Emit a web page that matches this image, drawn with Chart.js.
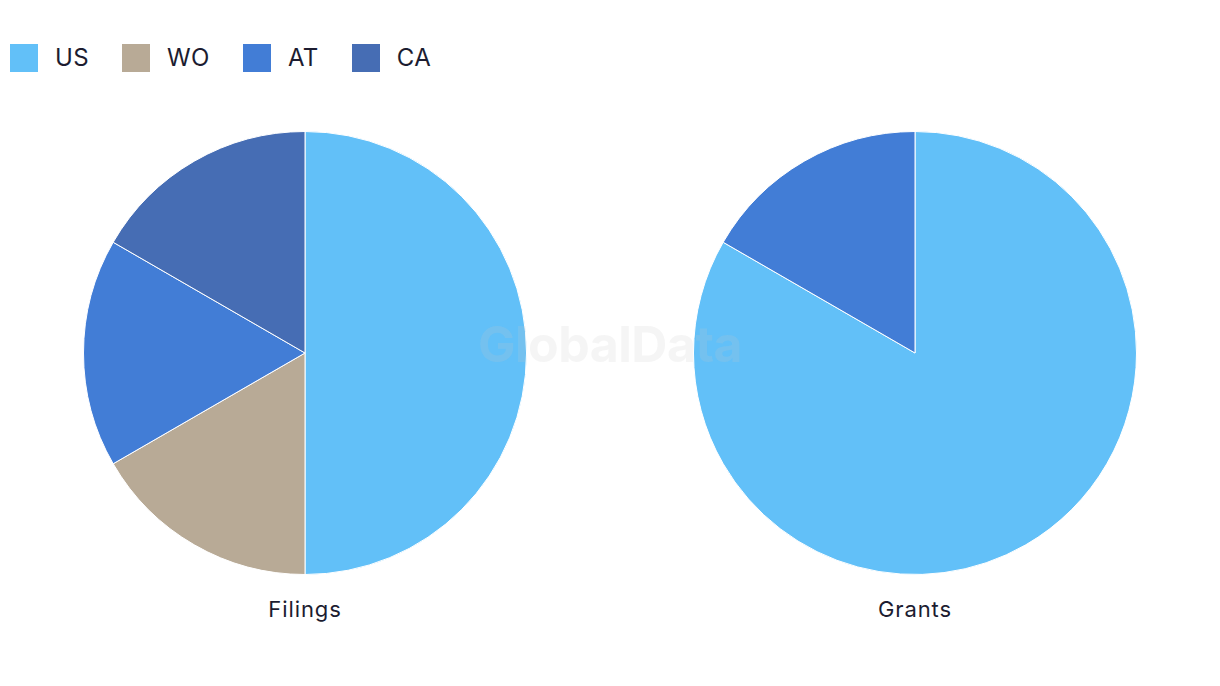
<!DOCTYPE html>
<html>
<head>
<meta charset="utf-8">
<script src="https://cdn.jsdelivr.net/npm/chart.js@4.4.1/dist/chart.umd.min.js"></script>
<style>
  html, body { margin:0; padding:0; background:#fff; width:1220px; height:686px; overflow:hidden; font-family: Inter, "Noto Sans", sans-serif; color:#1c1c30; }
  #legend { position:absolute; left:10px; top:43px; display:flex; align-items:center; }
  .item { display:flex; align-items:center; margin-right:33px; font-size:24px; letter-spacing:0.4px; }
  .box { width:28px; height:28px; margin-right:17px; }
  .cv { position:absolute; }
  .lbl { position:absolute; width:300px; text-align:center; font-size:22px; letter-spacing:0.9px; top:596px; }
  #wm { position:absolute; left:360px; top:314px; width:500px; text-align:center; font-size:50px; font-weight:700; color:rgba(200,200,200,0.18); pointer-events:none; letter-spacing:-0.5px; }
</style>
</head>
<body>
<div id="legend"></div>
<div class="cv" style="left:83px; top:131px; width:444px; height:444px;"><canvas id="c1" width="444" height="444"></canvas></div>
<div class="cv" style="left:693px; top:131px; width:444px; height:444px;"><canvas id="c2" width="444" height="444"></canvas></div>
<div class="lbl" id="l1" style="left:155px;"></div>
<div class="lbl" id="l2" style="left:765px;"></div>
<div id="wm">GlobalData</div>
<script>
const categories = ["US", "WO", "AT", "CA"];
const colors = ["#62C0F8", "#B8AA96", "#427DD6", "#466DB4"];
const filingsValues = [3, 1, 1, 1];
const grantsCategories = ["US", "AT"];
const grantsValues = [5, 1];
const chartTitles = ["Filings", "Grants"];

const legend = document.getElementById('legend');
categories.forEach((c, i) => {
  const it = document.createElement('div'); it.className = 'item';
  const b = document.createElement('div'); b.className = 'box'; b.style.background = colors[i];
  const t = document.createElement('span'); t.textContent = c;
  it.appendChild(b); it.appendChild(t); legend.appendChild(it);
});
document.getElementById('l1').textContent = chartTitles[0];
document.getElementById('l2').textContent = chartTitles[1];

function colorFor(labels) { return labels.map(l => colors[categories.indexOf(l)]); }

function makePie(id, labels, values) {
  new Chart(document.getElementById(id), {
    type: 'pie',
    data: { labels: labels, datasets: [{ data: values, backgroundColor: colorFor(labels), borderColor: '#ffffff', borderWidth: 1 }] },
    options: {
      responsive: false, animation: false,
      layout: { padding: 0 },
      plugins: { legend: { display: false }, tooltip: { enabled: false } }
    }
  });
}
makePie('c1', categories, filingsValues);
makePie('c2', grantsCategories, grantsValues);
</script>
</body>
</html>
